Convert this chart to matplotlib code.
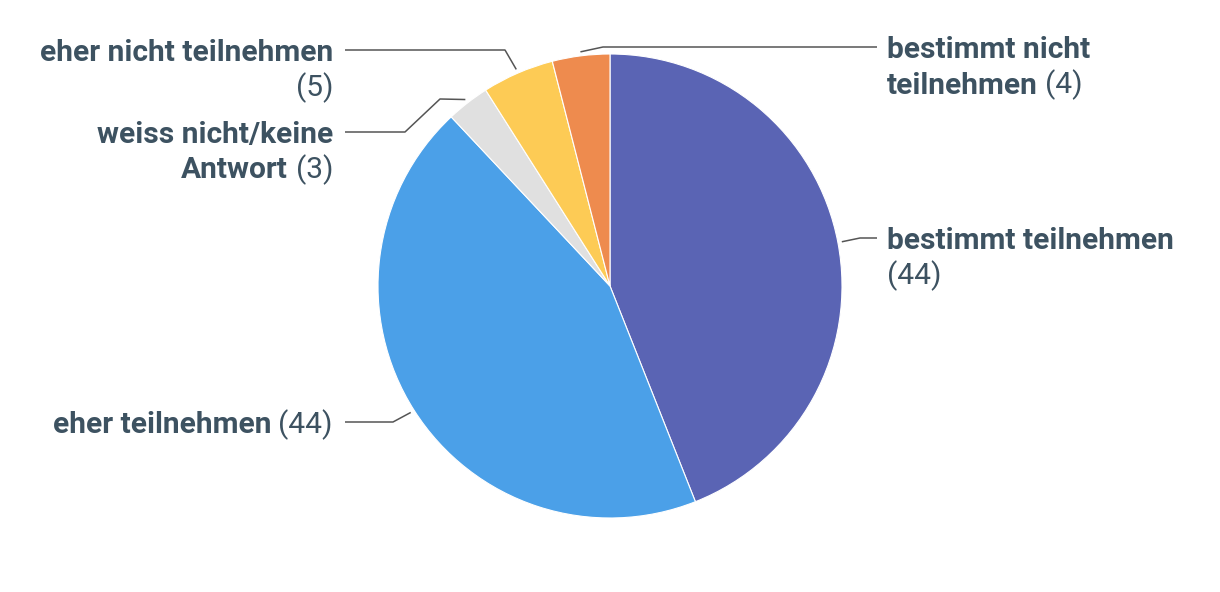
import numpy as np
import matplotlib.pyplot as plt

# data
names = ["bestimmt teilnehmen", "eher teilnehmen", "weiss nicht/keine Antwort",
         "eher nicht teilnehmen", "bestimmt nicht teilnehmen"]
counts = [44, 44, 3, 5, 4]
colors = ["#5A64B4", "#4BA0E8", "#E0E0E0", "#FDCB55", "#EE8B4E"]

W, H = 1220, 592
cx, cy, R = 610, 592 - 286, 232
text_col = "#3D5261"
line_col = "#555555"
fs = 21.5
font = "Roboto"

fig = plt.figure(figsize=(W / 100, H / 100), dpi=100)
ax = fig.add_axes([0, 0, 1, 1])
wedges, _ = ax.pie(counts, colors=colors, startangle=90, counterclock=False,
                   center=(cx, cy), radius=R, frame=True,
                   wedgeprops=dict(edgecolor="white", linewidth=0.8))
ax.set_xlim(0, W)
ax.set_ylim(0, H)
ax.set_aspect("auto")
ax.axis("off")

renderer = fig.canvas.get_renderer()


def width_px(s, weight):
    t = ax.text(0, 0, s, fontsize=fs, family=font, fontweight=weight)
    w = t.get_window_extent(renderer).width
    t.remove()
    return w


def label(lines, x, y_top, ha):
    # lines: list of (bold part, regular part); y_top is first line (pixels from top)
    for i, (b, r) in enumerate(lines):
        yb = H - (y_top + 11 + i * 35.5)
        wb = width_px(b, "bold") if b else 0
        gap = width_px("a a", "normal") - 2 * width_px("a", "normal") if (b and r) else 0
        wr = width_px(r, "normal") if r else 0
        x0 = x if ha == "left" else x - (wb + gap + wr)
        if b:
            ax.text(x0, yb, b, fontsize=fs, family=font, fontweight="bold",
                    color=text_col, ha="left", va="baseline")
        if r:
            ax.text(x0 + wb + gap, yb, r, fontsize=fs, family=font,
                    color=text_col, ha="left", va="baseline")


def leader(i, pts):
    w = wedges[i]
    a = np.deg2rad((w.theta1 + w.theta2) / 2)
    x0, y0 = cx + (R + 4) * np.cos(a), cy + (R + 4) * np.sin(a)
    xs = [x0] + [p[0] for p in pts]
    ys = [y0] + [H - p[1] for p in pts]
    ax.plot(xs, ys, color=line_col, lw=1.1, solid_capstyle="butt")


# leader lines (elbow points in pixels from top)
leader(0, [(860, 238), (877, 238)])
leader(1, [(393, 422), (345, 422)])
leader(2, [(440, 99), (405, 132), (345, 132)])
leader(3, [(505, 50), (345, 50)])
leader(4, [(603, 47), (877, 47)])

label([("bestimmt teilnehmen", ""), ("", "(44)")], 887, 238, "left")
label([("bestimmt nicht", ""), ("teilnehmen", "(4)")], 887, 47, "left")
label([("eher teilnehmen", "(44)")], 333, 422, "right")
label([("weiss nicht/keine", ""), ("Antwort", "(3)")], 333, 132, "right")
label([("eher nicht teilnehmen", ""), ("", "(5)")], 333, 50, "right")

fig.savefig("out.png", dpi=100)
